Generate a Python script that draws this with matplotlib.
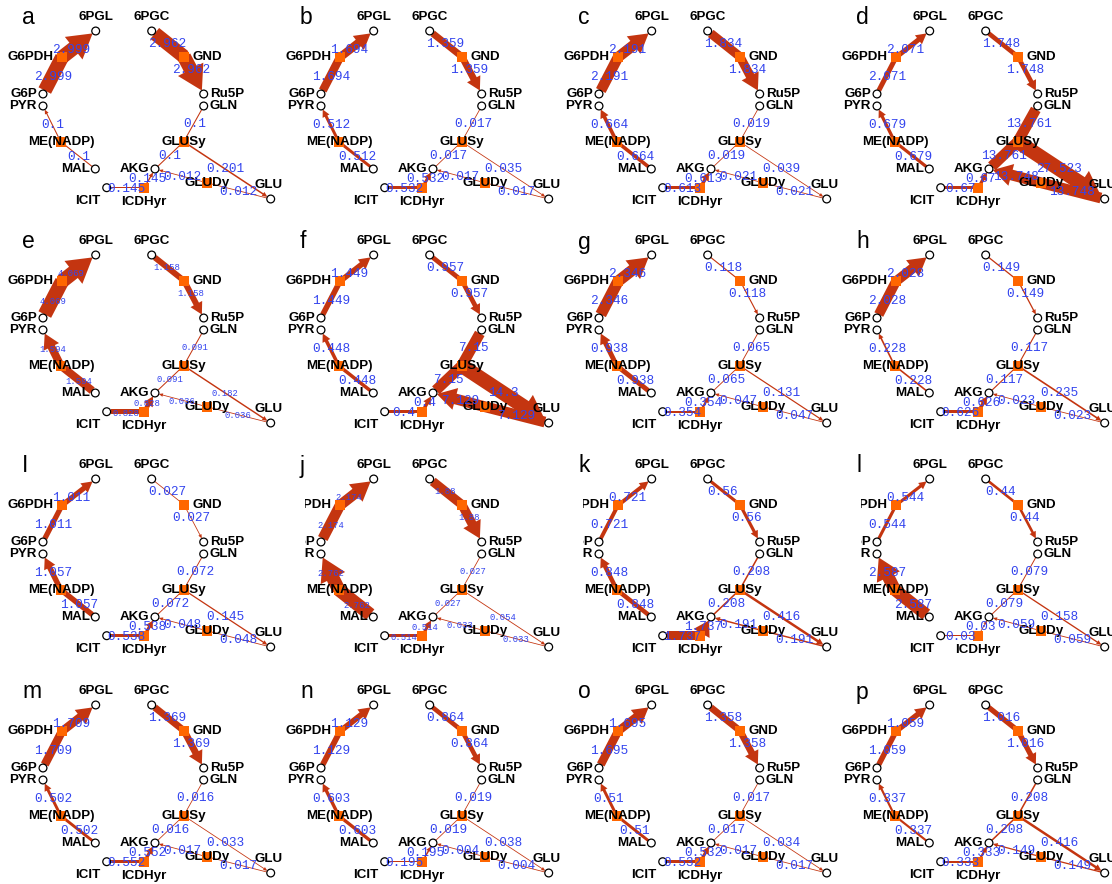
import numpy as np
import matplotlib
matplotlib.use('Agg')
import matplotlib.pyplot as plt
from matplotlib.patches import Circle, Rectangle, FancyArrow

# panel letters and fluxes
letters = ['a', 'b', 'c', 'd', 'e', 'f', 'g', 'h', 'I', 'j', 'k', 'l', 'm', 'n', 'o', 'p']
g6pdh = [2.999, 1.694, 2.191, 2.071, 4.069, 1.449, 2.346, 2.028, 1.011, 2.174, 0.721, 0.544, 1.709, 1.129, 1.695, 1.059]
gnd = [2.962, 1.359, 1.834, 1.748, 1.158, 0.957, 0.118, 0.149, 0.027, 1.88, 0.56, 0.44, 1.369, 0.864, 1.358, 1.016]
me_nadp = [0.1, 0.512, 0.664, 0.679, 1.594, 0.448, 0.938, 0.228, 1.057, 2.762, 0.848, 2.587, 0.502, 0.603, 0.51, 0.337]
glusy = [0.1, 0.017, 0.019, 13.761, 0.091, 7.15, 0.065, 0.117, 0.072, 0.027, 0.208, 0.079, 0.016, 0.019, 0.017, 0.208]
glu_out = [0.201, 0.035, 0.039, 27.523, 0.182, 14.3, 0.131, 0.235, 0.145, 0.054, 0.416, 0.158, 0.033, 0.038, 0.034, 0.416]
icdhyr = [0.145, 0.532, 0.613, 0.67, 0.828, 0.4, 0.354, 0.626, 0.538, 0.514, 1.737, 0.03, 0.552, 0.195, 0.532, 0.333]
gludy = [0.012, 0.017, 0.021, 13.748, 0.036, 7.129, 0.047, 0.023, 0.048, 0.033, 0.191, 0.059, 0.017, 0.004, 0.017, 0.149]

small_labels = ['e', 'j']
cut_left = ['j', 'k', 'l']

# map layout, in pixels inside one panel
mets = {'6PGL': (95.7, 31), '6PGC': (151.7, 31), 'G6P': (43, 94), 'PYR': (43, 106),
        'Ru5P': (203.7, 94), 'GLN': (203.7, 106), 'MAL': (95.3, 169), 'AKG': (155, 169),
        'ICIT': (106.7, 187.7), 'GLU': (270.7, 199)}
rxns = {'G6PDH': (62, 57.3), 'GND': (184, 56.7), 'ME(NADP)': (60.7, 141.7),
        'GLUSy': (183.7, 141.7), 'ICDHyr': (144.3, 187.7), 'GLUDy': (206.7, 182.7)}
pos = dict(mets)
pos.update(rxns)

node_text = [('6PGL', 95.7, 17, 'center'), ('6PGC', 151.7, 17, 'center'),
             ('G6PDH', 53.5, 57.3, 'right'), ('GND', 192.5, 57, 'left'),
             ('G6P', 37, 94, 'right'), ('PYR', 37, 106, 'right'),
             ('Ru5P', 210, 94, 'left'), ('GLN', 210, 106, 'left'),
             ('ME(NADP)', 61.7, 142, 'center'), ('GLUSy', 184.3, 142, 'center'),
             ('MAL', 90, 169, 'right'), ('AKG', 149.5, 169, 'right'),
             ('ICIT', 87.3, 201.5, 'center'), ('ICDHyr', 144.3, 202, 'center'),
             ('GLUDy', 206.7, 183, 'center'), ('GLU', 268.3, 185, 'center')]

# (from, to, flux list, label position, arrow head)
segs = [('G6P', 'G6PDH', g6pdh, (53, 77), False),
        ('G6PDH', '6PGL', g6pdh, (71, 50), True),
        ('6PGC', 'GND', gnd, (167, 44), False),
        ('GND', 'Ru5P', gnd, (191, 70), True),
        ('MAL', 'ME(NADP)', me_nadp, (79, 157), False),
        ('ME(NADP)', 'PYR', me_nadp, (53, 125), True),
        ('GLN', 'GLUSy', glusy, (195, 124), False),
        ('AKG', 'GLUSy', glusy, (170, 156), False),
        ('GLUSy', 'GLU', glu_out, (225, 169), True),
        ('ICIT', 'ICDHyr', icdhyr, (126, 189), False),
        ('ICDHyr', 'AKG', icdhyr, (147, 179), True),
        ('GLU', 'GLUDy', gludy, (238, 192), False),
        ('GLUDy', 'AKG', gludy, (182, 177), True)]

ARROW = '#c43510'
SQUARE = '#ff6600'
BLUE = '#3344ee'
R = 3.9


def width_of(f, fmax):
    if fmax > 5:
        return 0.6 + 13.9 * (f / fmax) ** 0.45
    return 0.6 + 4.6 * f if f <= 2.9 else 14 + 0.5 * np.log2(f / 2.9)


def fmt(v):
    return ('%.3f' % v).rstrip('0').rstrip('.')


W, H = 1112, 884
col_x = [0, 278, 556, 834]
row_y = [0, 224, 448, 674]

fig = plt.figure(figsize=(W / 100, H / 100), dpi=100)

for k, let in enumerate(letters):
    r, c = divmod(k, 4)
    x0, y0 = col_x[c], row_y[r]
    ax = fig.add_axes([x0 / W, 1 - (y0 + 221) / H, 278 / W, 221 / H])
    ax.set_xlim(0, 278)
    ax.set_ylim(221, 0)
    ax.axis('off')

    fmax = max(s[2][k] for s in segs)
    lab_size = 6.4 if let in small_labels else 9.2

    for a, b, vals, lp, head in segs:
        f = vals[k]
        w = max(0.8, width_of(f, fmax))
        (xa, ya), (xb, yb) = pos[a], pos[b]
        d = np.hypot(xb - xa, yb - ya)
        ux, uy = (xb - xa) / d, (yb - ya) / d
        if a in mets:
            xa, ya = xa + ux * R, ya + uy * R
        if b in mets:
            xb, yb = xb - ux * R, yb - uy * R
        L = np.hypot(xb - xa, yb - ya)
        if head:
            hw = 1.9 * w + 2
            hl = min(1.5 * w + 3, 0.85 * L)
        else:
            hw, hl = w, 0
        ax.add_patch(FancyArrow(xa, ya, xb - xa, yb - ya, width=w, head_width=hw,
                                head_length=hl, length_includes_head=True,
                                color=ARROW, lw=0, zorder=2, clip_on=False))
        ax.text(lp[0], lp[1], fmt(f), color=BLUE, fontsize=lab_size,
                family='Liberation Mono', ha='center', va='center', zorder=6)

    for name, (x, y) in rxns.items():
        ax.add_patch(Rectangle((x - 5, y - 5), 10, 10, color=SQUARE, lw=0,
                               zorder=3, clip_on=False))
    for name, (x, y) in mets.items():
        ax.add_patch(Circle((x, y), R, fc='white', ec='black', lw=0.9,
                            zorder=4, clip_on=False))
    for txt, x, y, ha in node_text:
        ax.text(x, y, txt, fontsize=9.6, fontweight='bold', family='Liberation Sans',
                ha=ha, va='center', zorder=5)

    if let in cut_left:
        ax.add_patch(Rectangle((4, 2), 23, 219, color='white', lw=0,
                               zorder=50, clip_on=False))
    ax.text(22, 18, let, fontsize=16.5, family='Liberation Sans',
            ha='left', va='center', zorder=60)

fig.savefig('out.png', dpi=100)
